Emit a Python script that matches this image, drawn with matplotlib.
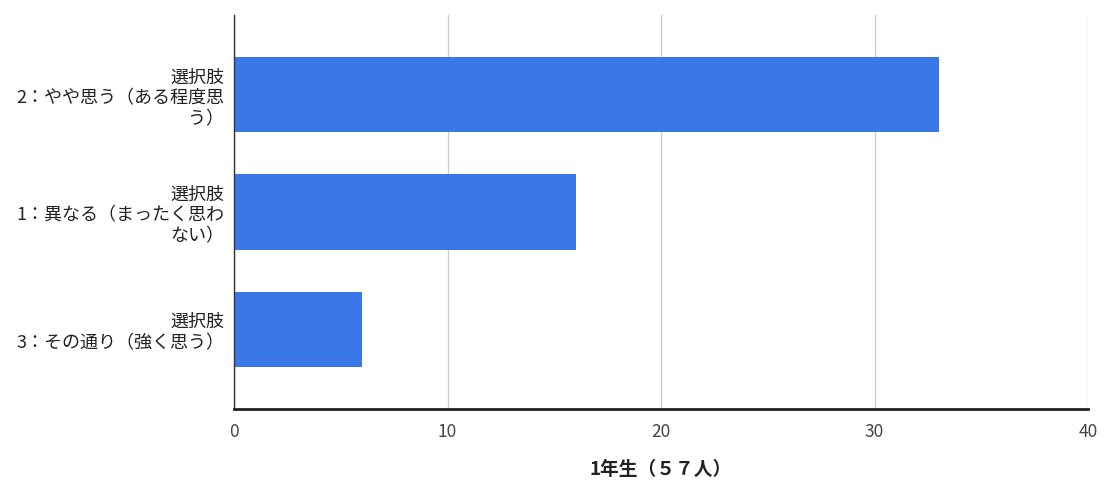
import matplotlib
matplotlib.use("Agg")
import matplotlib.pyplot as plt

plt.rcParams['font.family'] = ['Noto Sans CJK JP', 'DejaVu Sans']

categories = [
    "選択肢\n2：やや思う（ある程度思\nう）",
    "選択肢\n1：異なる（まったく思わ\nない）",
    "選択肢\n3：その通り（強く思う）",
]
values = [33, 16, 6]
xticks = [0, 10, 20, 30, 40]
xlabel = "1年生（５７人）"

fig = plt.figure(figsize=(11.04, 4.84), dpi=100)
ax = fig.add_axes([234/1104, 1-409/484, (1088-234)/1104, (409-15)/484])

ypos = list(range(len(categories)))
ax.barh(ypos, values, height=0.64, color='#3b78e7', zorder=3)
ax.set_ylim(2.68, -0.68)
ax.set_xlim(0, 40)
ax.set_xticks(xticks)
ax.set_xticklabels([str(t) for t in xticks], fontsize=12.5, color='#444444')
ax.set_yticks(ypos)
ax.set_yticklabels(categories, fontsize=13, color='#222222',
                   linespacing=1.2, ha='right', multialignment='right')
ax.tick_params(axis='both', length=0)
ax.tick_params(axis='x', pad=10)
ax.tick_params(axis='y', pad=7)
ax.grid(axis='x', color='#cccccc', linewidth=1, zorder=0)
for s in ['top', 'right']:
    ax.spines[s].set_visible(False)
ax.spines['left'].set_color('#333333')
ax.spines['left'].set_linewidth(1)
ax.spines['left'].set_zorder(4)
ax.spines['bottom'].set_color('#222222')
ax.spines['bottom'].set_linewidth(2)
ax.spines['bottom'].set_zorder(4)
ax.set_xlabel(xlabel, fontsize=13.5, fontweight='bold', color='#222222', labelpad=14)

fig.savefig("out.png", dpi=100, facecolor='white')
